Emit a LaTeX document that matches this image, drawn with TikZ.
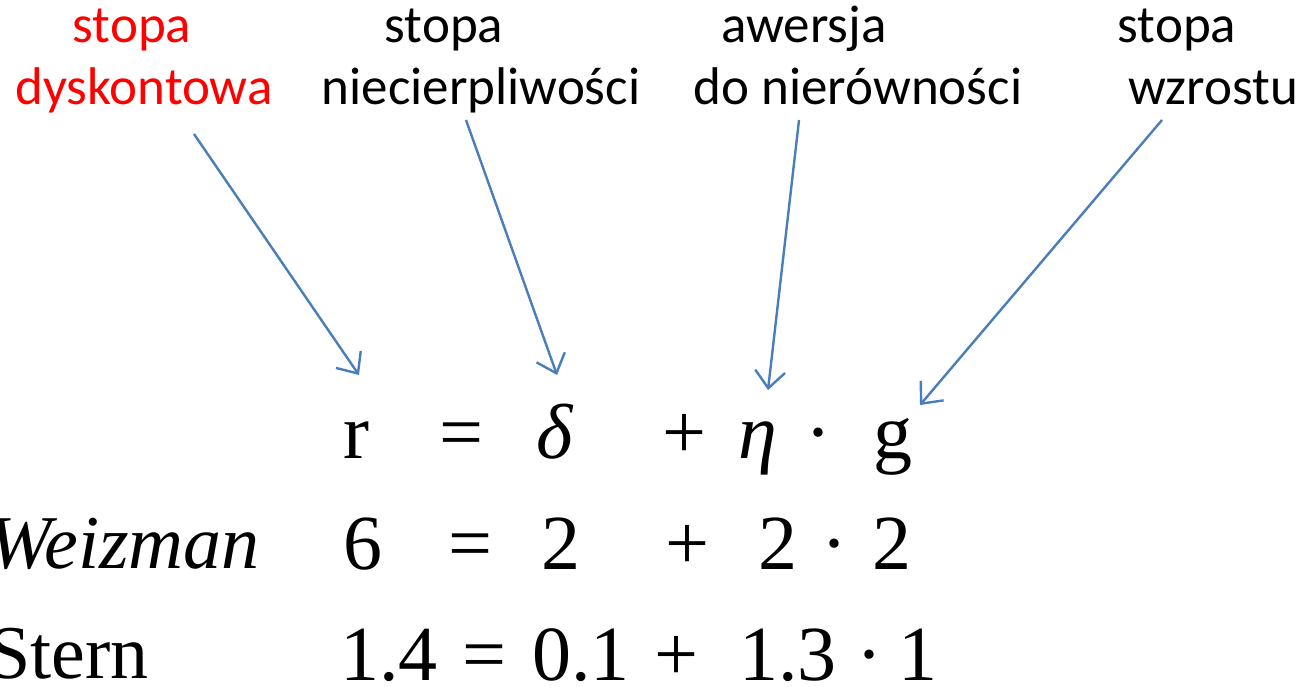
\documentclass[tikz,border=0pt]{standalone}
\usepackage{fontspec}
\usepackage{tikz}
\usetikzlibrary{arrows.meta}
\setmainfont{Liberation Serif}
\newfontfamily\labfont{Carlito}
\definecolor{arrblue}{RGB}{74,126,187}

\begin{document}
\begin{tikzpicture}[x=1pt,y=-1pt,
		lab/.style={anchor=base,inner sep=0pt,font=\labfont\fontsize{53}{60}\selectfont},
		eq/.style={anchor=base,inner sep=0pt,font=\fontsize{78}{80}\selectfont},
		who/.style={anchor=base east,inner sep=0pt,font=\fontsize{76}{80}\selectfont},
		arr/.style={arrblue,line width=2.4pt,-{Straight Barb[length=17pt,width=30pt,line width=2.4pt]}}]
			\useasboundingbox (0,0) rectangle (1316,686);
			\node[lab,red] (dsk1) at (132,42) {stopa};
			\node[lab,red] (dsk2) at (144,104) {dyskontowa};
			\node[lab] (nc1) at (444,42) {stopa};
			\node[lab] (nc2) at (481,104) {niecierpliwości};
			\node[lab] (aw1) at (804,42) {awersja};
			\node[lab] (aw2) at (858,104) {do nierówności};
			\node[lab] (wz1) at (1177,42) {stopa};
			\node[lab] (wz2) at (1213,104) {wzrostu};
			\foreach \x/\t [count=\i] in {356/r,461/=,555/{\itshape δ},684/+,758/{\itshape η},818/·,893/g}
				\node[eq] (a\i) at (\x,458) {\t};
			\foreach \x/\t [count=\i] in {363/6,470/=,561/2,687/+,778/2,834/·,892/2}
				\node[eq] (b\i) at (\x,569) {\t};
			\foreach \x/\t [count=\i] in {389/1.4,484/=,581/0.1,676/+,788/1.3,869/·,918/1}
				\node[eq] (c\i) at (\x,680) {\t};
			\node[who] (wei) at (260,568) {\itshape Weizman};
			\node[who] (ste) at (149,678) {Stern};
			\coordinate (s1) at (194,134); \coordinate (t1) at (359,375);
			\coordinate (s2) at (466,120); \coordinate (t2) at (557,375);
			\coordinate (s3) at (799,120); \coordinate (t3) at (768,390);
			\coordinate (s4) at (1162,120); \coordinate (t4) at (920,405);
			\draw[arr] (s1) -- (t1);
			\draw[arr] (s2) -- (t2);
			\draw[arr] (s3) -- (t3);
			\draw[arr] (s4) -- (t4);
		\end{tikzpicture}
\end{document}
